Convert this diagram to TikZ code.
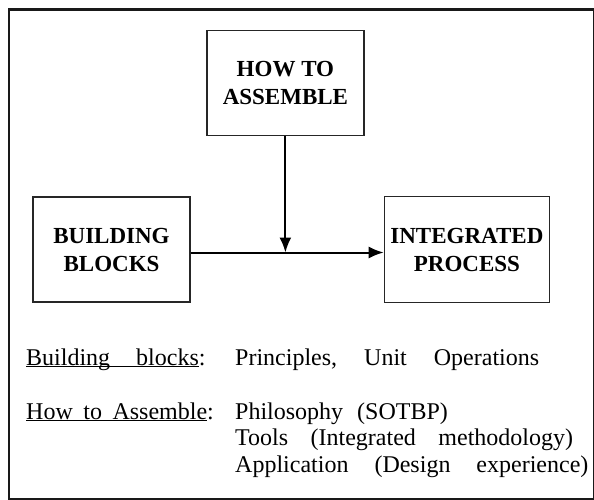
\documentclass[tikz,border=0pt]{standalone}
\usepackage{fontspec}
\setmainfont{Liberation Serif}
\usepackage{tikz}
\usetikzlibrary{positioning,arrows.meta}

\begin{document}
\begin{tikzpicture}[x=1pt,y=-1pt,inner sep=0pt]
\tikzstyle{main}=[rectangle, draw=black!85, line width=1.4pt, minimum width=157pt, minimum height=105pt, align=center, font=\fontsize{23}{28}\selectfont\bfseries]
\tikzstyle{connect}=[-{Latex[length=15pt,width=12pt]}, line width=2pt]
\tikzstyle{txt}=[anchor=base west, font=\fontsize{24}{26.5}\selectfont]
\useasboundingbox (0,0) rectangle (594,500);
\draw[line width=2.6pt, black!90] (9,9.5) rectangle (594.5,499.5);
\node[main] (bb) at (111.5,249.5) {BUILDING\\BLOCKS};
\node[main] (how) [above right=60pt and 15.5pt of bb] {HOW TO\\ASSEMBLE};
\node[main,minimum width=165pt,minimum height=106pt] (ip) [right=193pt of bb] {INTEGRATED\\PROCESS};
\coordinate (join) at ([yshift=-3pt]how.south |- bb.east);
\path ([yshift=-3pt]bb.east) edge[connect] ([yshift=-3pt]ip.west);
\path (how) edge[connect] (join);
\node[txt] (bbl) at (26,365) {\spaceskip=26pt\relax\underline{\smash{Building blocks}}:};
\node[txt] (bbv) at (235,365) {\spaceskip=27pt\relax Principles, Unit Operations};
\node[txt] (hal) at (26,419) {\spaceskip=10.5pt\relax\underline{\smash{How to Assemble}}:};
\node[txt] (hav1) at (235,419) {\spaceskip=14pt\relax Philosophy (SOTBP)};
\node[txt] (hav2) at (235,445) {\spaceskip=22.5pt\relax Tools (Integrated methodology)};
\node[txt] (hav3) at (235,472) {\spaceskip=26pt\relax Application (Design experience)};
\end{tikzpicture}
\end{document}
